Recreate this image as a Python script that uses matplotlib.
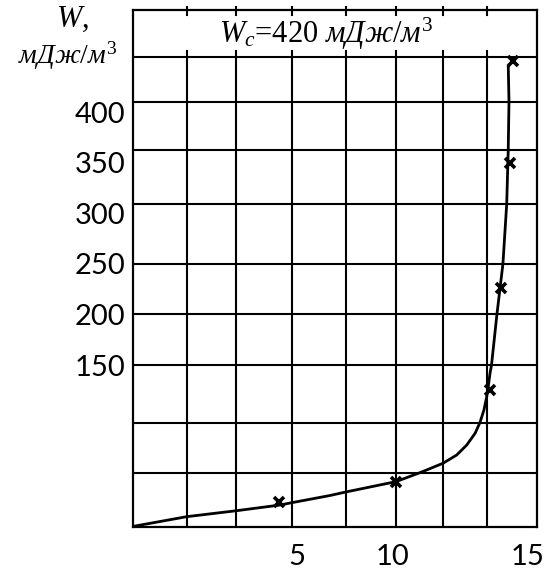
import matplotlib
matplotlib.use("Agg")
import matplotlib.pyplot as plt

plt.rcParams['mathtext.fontset'] = 'custom'
plt.rcParams['mathtext.rm'] = 'Liberation Serif'
plt.rcParams['mathtext.it'] = 'Liberation Serif:italic'
plt.rcParams['mathtext.bf'] = 'Liberation Serif:bold'

# fitted curve
curve_x = [0.0, 2.14, 4.11, 5.82, 6.29, 7.80, 8.43, 10.41, 11.36, 11.69, 12.28,
           12.81, 13.21, 13.54, 13.73, 13.89, 14.00, 14.06, 14.13, 14.19, 14.40,
           14.64, 14.79, 14.85, 14.88, 14.85]
curve_y = [-9.5, 0.2, 6.1, 11.7, 14.0, 21.1, 24.6, 34.8, 43.7, 47.0, 53.1,
           61.1, 71.0, 82.6, 93.1, 105.6, 118.8, 128.6, 141.9, 150.1, 199.5,
           249.9, 309.2, 362.5, 410.0, 446.5]

# measured points (crosses)
mark_x = [5.79, 10.40, 14.12, 14.55, 14.91, 15.05]
mark_y = [15.0, 34.8, 125.7, 225.9, 350.2, 451.0]

# hand-drawn grid
grid_x = [2.14, 4.07, 6.29, 8.43, 10.41, 12.28, 14.02]
grid_y = [43.4, 92.8, 150.1, 200.5, 249.9, 309.2, 362.5, 410.0]
header_line_y = 454.4

ytick_vals = [150, 200, 250, 300, 350, 400]
ytick_labels = ['150', '200', '250', '300', '350', '400']
xtick_pos = [6.49, 10.28, 15.60]
xtick_labels = ['5', '10', '15']

header_text = r'$W_c$=420 $мДж/м^3$'

fig = plt.figure(figsize=(5.44, 5.72), dpi=100)
ax = fig.add_axes([0.2439, 0.0787, 0.7438, 0.9038])
ax.set_xlim(0, 16)
ax.set_ylim(-10, 500.9)

lw = 1.5
for gx in grid_x:
    ax.plot([gx, gx], [-10, 461], color='black', lw=lw, solid_capstyle='butt')
    ax.plot([gx, gx], [496, 504], color='black', lw=lw, clip_on=False)
for gy in grid_y:
    ax.axhline(gy, color='black', lw=lw)
ax.axhline(header_line_y, color='black', lw=lw)

ax.plot(curve_x, curve_y, color='black', lw=2.0, solid_joinstyle='round',
        solid_capstyle='butt')
ax.plot(mark_x, mark_y, linestyle='none', marker='x', color='black',
        markersize=7.5, markeredgewidth=2.6)

for s in ax.spines.values():
    s.set_linewidth(1.6)

ax.set_yticks(ytick_vals)
ax.set_yticklabels(ytick_labels, fontfamily='Lato', fontsize=21)
ax.set_xticks(xtick_pos)
ax.set_xticklabels(xtick_labels, fontfamily='Lato', fontsize=21)
ax.tick_params(axis='both', length=0)
ax.tick_params(axis='y', pad=5)
ax.tick_params(axis='x', pad=12)

ax.text(7.67, 477, header_text, fontsize=22, ha='center', va='center',
        fontfamily='Liberation Serif')

fig.text(0.134, 0.966, r'$W$,', fontsize=22, ha='center', va='center',
         fontfamily='Liberation Serif')
fig.text(0.125, 0.903, r'$мДж/м^3$', fontsize=20, ha='center', va='center')

fig.savefig('out.png', dpi=100)
